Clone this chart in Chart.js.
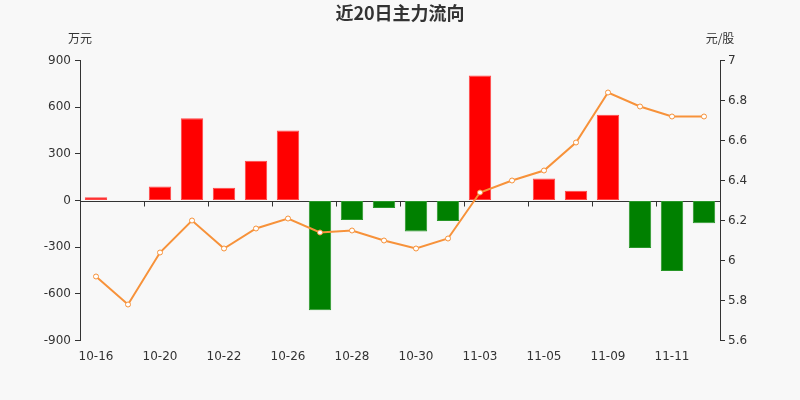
<!DOCTYPE html>
<html>
<head>
<meta charset="utf-8">
<script src="https://cdn.jsdelivr.net/npm/chart.js@4"></script>
<style>
  html, body { margin: 0; padding: 0; background: #f8f8f8; }
  #wrap { width: 800px; height: 400px; }
</style>
</head>
<body>
<div id="wrap"><canvas id="flowChart" width="800" height="400"></canvas></div>
<script>
// 近20日主力流向 data
const dates = ['10-16', '10-19', '10-20', '10-21', '10-22', '10-23', '10-26', '10-27', '10-28', '10-29',
               '10-30', '11-02', '11-03', '11-04', '11-05', '11-06', '11-09', '11-10', '11-11', '11-12'];
const mainFlow = [21, -4, 90, 529, 82, 255, 450, -705, -126, -49,
                  -199, -131, 804, 0, 141, 62, 551, -306, -454, -146];   // 万元
const price = [5.92, 5.78, 6.04, 6.20, 6.06, 6.16, 6.21, 6.14, 6.15, 6.10,
               6.06, 6.11, 6.34, 6.40, 6.45, 6.59, 6.84, 6.77, 6.72, 6.72]; // 元/股
const flowTicks = [-900, -600, -300, 0, 300, 600, 900];
const priceTicks = [5.6, 5.8, 6.0, 6.2, 6.4, 6.6, 6.8, 7.0];

const textColor = '#333';
const fontFamily = '"DejaVu Sans", sans-serif';

// background, title, unit labels and tick marks on the zero line
const decor = {
    id: 'decor',
    beforeDraw(chart) {
        const c = chart.ctx;
        c.save();
        c.fillStyle = '#f8f8f8';
        c.fillRect(0, 0, chart.width, chart.height);
        c.restore();
    },
    afterDraw(chart) {
        const c = chart.ctx;
        const x = chart.scales.x, y = chart.scales.y, y1 = chart.scales.y1;
        c.save();
        c.fillStyle = textColor;
        c.textAlign = 'center';
        c.textBaseline = 'middle';
        c.font = 'bold 18px "Noto Sans CJK SC", sans-serif';
        c.fillText('近20日主力流向', chart.width / 2, 13);
        c.font = '12px "Noto Sans CJK SC", sans-serif';
        c.fillText('万元', y.right, 38);
        c.fillText('元/股', y1.left, 38);
        c.restore();
    },
    beforeDatasetsDraw(chart) {
        // zero line with x tick marks hanging at category boundaries
        const c = chart.ctx;
        const x = chart.scales.x, y = chart.scales.y;
        const zeroY = Math.round(y.getPixelForValue(0)) + 0.5;
        const half = (x.getPixelForValue(1) - x.getPixelForValue(0)) / 2;
        c.save();
        c.strokeStyle = textColor;
        c.lineWidth = 1;
        c.beginPath();
        c.moveTo(x.left, zeroY);
        c.lineTo(x.right, zeroY);
        for (let i = 2; i < dates.length; i += 2) {
            const px = Math.round(x.getPixelForValue(i) - half) + 0.5;
            c.moveTo(px, zeroY);
            c.lineTo(px, zeroY + 5);
        }
        c.stroke();
        c.restore();
    }
};

const ctx = document.getElementById('flowChart');
const myChart = new Chart(ctx, {
    data: {
        labels: dates,
        datasets: [{
            type: 'line',
            label: '股价',
            data: price,
            yAxisID: 'y1',
            borderColor: '#f7923a',
            borderWidth: 2,
            pointRadius: 2.5,
            pointBackgroundColor: '#ffffff',
            pointBorderColor: '#f7923a',
            pointBorderWidth: 1,
            tension: 0,
            order: 0
        }, {
            type: 'bar',
            label: '主力流向',
            data: mainFlow,
            yAxisID: 'y',
            backgroundColor: mainFlow.map(v => v >= 0 ? '#ff0000' : '#008000'),
            borderColor: mainFlow.map(v => v >= 0 ? 'rgba(255,70,70,1)' : 'rgba(40,150,40,1)'),
            borderWidth: 1,
            borderSkipped: false,
            categoryPercentage: 1,
            barPercentage: 0.7,
            order: 1
        }]
    },
    plugins: [decor],
    options: {
        responsive: false,
        animation: false,
        layout: { padding: { top: 60.5, left: 0, right: 0, bottom: 0 } },
        plugins: {
            legend: { display: false },
            title: { display: false },
            tooltip: { enabled: false }
        },
        scales: {
            x: {
                offset: true,
                border: { display: false },
                grid: { display: false },
                ticks: {
                    autoSkip: false,
                    maxRotation: 0,
                    padding: 1,
                    color: textColor,
                    font: { family: fontFamily, size: 12 },
                    callback: (v, i) => i % 2 === 0 ? dates[i] : ''
                },
                afterFit: s => { s.height = 59.5; }
            },
            y: {
                position: 'left',
                min: -900,
                max: 900,
                afterBuildTicks: s => { s.ticks = flowTicks.map(v => ({ value: v })); },
                border: { display: true, color: textColor, width: 1 },
                grid: { color: 'rgba(0,0,0,0)', tickColor: textColor, tickLength: 5, drawOnChartArea: false },
                ticks: {
                    color: textColor,
                    padding: 4,
                    font: { family: fontFamily, size: 12 }
                },
                afterFit: s => { s.width = 80; }
            },
            y1: {
                position: 'right',
                min: 5.6,
                max: 7,
                afterBuildTicks: s => { s.ticks = priceTicks.map(v => ({ value: v })); },
                border: { display: true, color: textColor, width: 1 },
                grid: { drawOnChartArea: false, tickColor: textColor, tickLength: 5 },
                ticks: {
                    color: textColor,
                    padding: 3,
                    font: { family: fontFamily, size: 12 },
                    callback: v => String(+v.toFixed(1))
                },
                afterFit: s => { s.width = 80; }
            }
        }
    }
});
</script>
</body>
</html>
